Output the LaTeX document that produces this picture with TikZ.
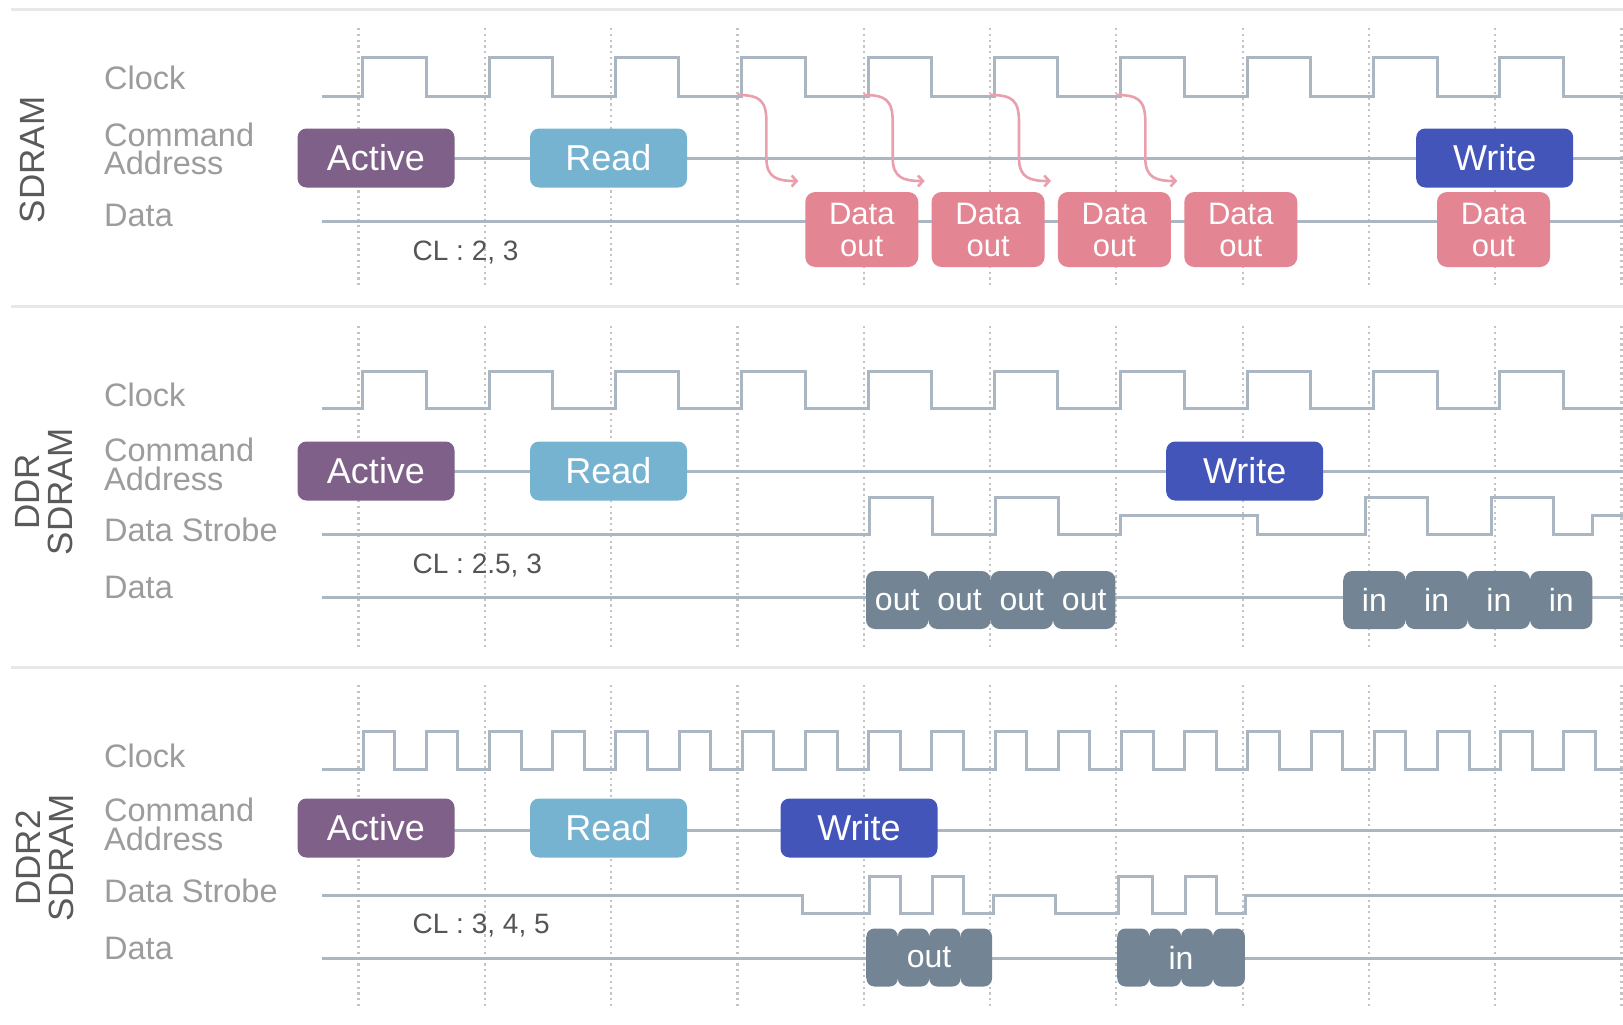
\documentclass[tikz,border=0pt]{standalone}
\usepackage{fontspec}
\setmainfont{Liberation Sans}
\usetikzlibrary{arrows.meta}
\definecolor{sigc}{HTML}{AAB7C2}
\definecolor{gridc}{HTML}{C4C4C4}
\definecolor{divc}{HTML}{E8E8E8}
\definecolor{labc}{HTML}{9C9C9C}
\definecolor{clc}{HTML}{555555}
\definecolor{sidec}{HTML}{5A5A5A}
\definecolor{activec}{HTML}{7E6089}
\definecolor{readc}{HTML}{76B3D1}
\definecolor{writec}{HTML}{4355B9}
\definecolor{datac}{HTML}{E38592}
\definecolor{arrc}{HTML}{E9A0AC}
\definecolor{blobc}{HTML}{738594}
\begin{document}
\begin{tikzpicture}[x=1pt,y=-1pt,
  sig/.style={draw=sigc, line width=3pt, line join=miter},
  gridl/.style={draw=gridc, line width=2.2pt, dash pattern=on 2.2pt off 3.6pt},
  divl/.style={draw=divc, line width=3pt},
  lbl/.style={anchor=base west, text=labc, inner sep=0pt, font=\fontsize{32.5}{28}\selectfont},
  lbl2/.style={anchor=north west, text=labc, inner sep=0pt, align=left, font=\fontsize{32.5}{28.5}\selectfont},
  cltext/.style={anchor=base west, text=clc, inner sep=0pt, font=\fontsize{28}{30}\selectfont},
  side/.style={rotate=90, text=sidec, align=center, inner sep=0pt, font=\fontsize{35}{33}\selectfont},
  cmd/.style={rounded corners=9pt, minimum width=157pt, minimum height=59pt, text=white, inner sep=0pt, font=\fontsize{36}{36}\selectfont},
  dout/.style={fill=datac, rounded corners=10pt, minimum width=113pt, minimum height=75pt, text=white, align=center, inner sep=0pt, font=\fontsize{31}{32}\selectfont},
  blob/.style={fill=blobc, rounded corners=9pt, minimum height=58pt, inner sep=0pt},
  btxt/.style={text=white, inner sep=0pt, font=\fontsize{32}{32}\selectfont},
  arr/.style={draw=arrc, line width=2.6pt, -{Straight Barb[length=5pt,width=11pt]}}
]
\useasboundingbox (0,0) rectangle (1623,1025);
\fill[white] (0,0) rectangle (1623,1025);

% dividers
\draw[divl] (11,10) -- (1623,10);
\draw[divl] (11,306) -- (1623,306);
\draw[divl] (11,667) -- (1623,667);

% dotted grid
\foreach \k in {0,...,10} {
  \draw[gridl] ({358.5+126.3*\k},28) -- ({358.5+126.3*\k},287);
  \draw[gridl] ({358.5+126.3*\k},326) -- ({358.5+126.3*\k},650);
  \draw[gridl] ({358.5+126.3*\k},685) -- ({358.5+126.3*\k},1008);
}

% side labels
\node[side] (sdramlab) at (32,160) {SDRAM};
\node[side] (ddrlab) at (44.5,492) {DDR\\SDRAM};
\node[side] (ddr2lab) at (44.5,858) {DDR2\\SDRAM};

% ---------------- SDRAM ----------------
\node[lbl] (l1clk) at (104,89.5) {Clock};
\node[lbl2] (l1cmd) at (104,122.7) {Command\\Address};
\node[lbl] (l1dat) at (104,226.5) {Data};
\node[cltext] (cl1) at (412.5,260) {CL : 2, 3};

\draw[sig] (322,96) \foreach \k in {0,...,9} {
  -- ({362.7+126.35*\k},96) -- ({362.7+126.35*\k},58)
  -- ({426.2+126.35*\k},58) -- ({426.2+126.35*\k},96)} -- (1623,96);

\coordinate (c1s) at (322,158);
\coordinate (c1e) at (1623,158);
\draw[sig] (c1s) -- (c1e);
\coordinate (d1s) at (322,221);
\coordinate (d1e) at (1623,221);
\draw[sig] (d1s) -- (d1e);

\foreach \s/\n in {737.4/3, 863.7/4, 990/5, 1116.3/6} {
  \coordinate (as\n) at (\s,95);
  \coordinate (at\n) at ({\s+61},181);
  \draw[arr] (as\n) .. controls ({\s+22},95) and ({\s+29},100) .. ({\s+29},122)
     -- ({\s+29},158) .. controls ({\s+29},178) and ({\s+40},181) .. (at\n);
}

\node[cmd, fill=activec] (act1) at (376,158) {Active};
\node[cmd, fill=readc] (rd1) at (608.5,158) {Read};
\node[cmd, fill=writec] (wr1) at (1494.7,158) {Write};

\node[dout] (do1) at (861.75,229.5) {Data\\out};
\node[dout] (do2) at (988.1,229.5) {Data\\out};
\node[dout] (do3) at (1114.45,229.5) {Data\\out};
\node[dout] (do4) at (1240.8,229.5) {Data\\out};
\node[dout] (do5) at (1493.5,229.5) {Data\\out};

% ---------------- DDR SDRAM ----------------
\node[lbl] (l2clk) at (104,406.7) {Clock};
\node[lbl2] (l2cmd) at (104,437.9) {Command\\Address};
\node[lbl] (l2dqs) at (104,541.7) {Data Strobe};
\node[lbl] (l2dat) at (104,598.3) {Data};
\node[cltext] (cl2) at (412.5,573.3) {CL : 2.5, 3};

\draw[sig] (322,408) \foreach \k in {0,...,9} {
  -- ({362.7+126.35*\k},408) -- ({362.7+126.35*\k},371)
  -- ({426.2+126.35*\k},371) -- ({426.2+126.35*\k},408)} -- (1623,408);

\coordinate (c2s) at (322,471);
\coordinate (c2e) at (1623,471);
\draw[sig] (c2s) -- (c2e);

\draw[sig] (322,534) -- (869,534) -- (869,497) -- (932,497) -- (932,534)
  -- (995,534) -- (995,497) -- (1058.5,497) -- (1058.5,534) -- (1120.7,534)
  -- (1120.7,515.5) -- (1257,515.5) -- (1257,534) -- (1365,534) -- (1365,497)
  -- (1427.7,497) -- (1427.7,534) -- (1491.7,534) -- (1491.7,497) -- (1553,497)
  -- (1553,534) -- (1592,534) -- (1592,515.5) -- (1623,515.5);

\coordinate (d2s) at (322,597);
\coordinate (d2e) at (1623,597);
\draw[sig] (d2s) -- (d2e);

\node[cmd, fill=activec] (act2) at (376,471) {Active};
\node[cmd, fill=readc] (rd2) at (608.5,471) {Read};
\node[cmd, fill=writec] (wr2) at (1244.7,471) {Write};

\fill[blobc] (866,580) rectangle (1115.4,620);
\fill[blobc] (1343.3,580) rectangle (1592.3,620);
\foreach \x [count=\i] in {897.2, 959.5, 1021.8, 1084.2} {
  \node[blob, minimum width=62.4pt] (o2\i) at (\x,600) {};
}
\foreach \x [count=\i] in {1374.4, 1436.6, 1498.9, 1561.2} {
  \node[blob, minimum width=62.3pt] (i2\i) at (\x,600) {};
}
\foreach \i in {1,...,4} {
  \node[btxt] at (o2\i.center) {out};
  \node[btxt] at (i2\i.center) {in};
}

% ---------------- DDR2 SDRAM ----------------
\node[lbl] (l3clk) at (104,767.3) {Clock};
\node[lbl2] (l3cmd) at (104,797.9) {Command\\Address};
\node[lbl] (l3dqs) at (104,902.3) {Data Strobe};
\node[lbl] (l3dat) at (104,959.3) {Data};
\node[cltext] (cl3) at (412.5,933.3) {CL : 3, 4, 5};

\draw[sig] (322,769) \foreach \k in {0,...,19} {
  -- ({363+63.2*\k},769) -- ({363+63.2*\k},731)
  -- ({394.6+63.2*\k},731) -- ({394.6+63.2*\k},769)} -- (1623,769);

\coordinate (c3s) at (322,830);
\coordinate (c3e) at (1623,830);
\draw[sig] (c3s) -- (c3e);

\draw[sig] (322,895) -- (802,895) -- (802,913) -- (869,913) -- (869,876)
  -- (900,876) -- (900,913) -- (932,913) -- (932,876) -- (963.5,876)
  -- (963.5,913) -- (993,913) -- (993,895) -- (1055.5,895) -- (1055.5,913)
  -- (1118,913) -- (1118,876) -- (1152.5,876) -- (1152.5,913) -- (1185,913)
  -- (1185,876) -- (1216.5,876) -- (1216.5,913) -- (1245,913) -- (1245,895)
  -- (1623,895);

\coordinate (d3s) at (322,958);
\coordinate (d3e) at (1623,958);
\draw[sig] (d3s) -- (d3e);

\node[cmd, fill=activec] (act3) at (376,828) {Active};
\node[cmd, fill=readc] (rd3) at (608.5,828) {Read};
\node[cmd, fill=writec] (wr3) at (859,828) {Write};

\fill[blobc] (866.4,937) rectangle (992,978);
\fill[blobc] (1117.3,937) rectangle (1245,978);
\foreach \x [count=\i] in {882.1, 913.5, 944.9, 976.3} {
  \node[blob, minimum width=31.4pt, rounded corners=8pt] (o3\i) at (\x,957.5) {};
}
\foreach \x [count=\i] in {1133.25, 1165.15, 1197.05, 1228.95} {
  \node[blob, minimum width=31.9pt, rounded corners=8pt] (i3\i) at (\x,957.5) {};
}
\node[btxt] (o3t) at (929,957.5) {out};
\node[btxt] (i3t) at (1181,957.5) {in};

\end{tikzpicture}
\end{document}
